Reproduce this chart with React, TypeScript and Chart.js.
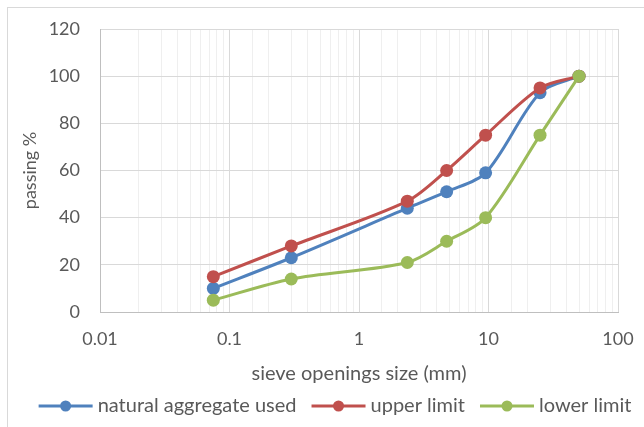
import React, { useEffect, useRef } from 'react';
import { Chart, registerables } from 'chart.js';

Chart.register(...registerables);

// ---- Data ----
const sieveSizes = [0.075, 0.3, 2.36, 4.75, 9.5, 25, 50];
const naturalAggregate = [10, 23, 44, 51, 59, 93, 100];
const upperLimit = [15, 28, 47, 60, 75, 95, 100];
const lowerLimit = [5, 14, 21, 30, 40, 75, 100];
const seriesNames = ['natural aggregate used', 'upper limit', 'lower limit'];
const seriesColors = ['#4F81BD', '#C0504D', '#9BBB59'];
const xTickLabels = ['0.01', '0.1', '1', '10', '100'];
const xTitle = 'sieve openings size (mm)';
const yTitle = 'passing %';

const FONT = 'Lato, "Open Sans", sans-serif';
const TEXT = '#595959';

const toPoints = (ys: number[]) => sieveSizes.map((x, i) => ({ x, y: ys[i] }));

const isDecade = (v: number) => {
  const l = Math.log10(v);
  return Math.abs(l - Math.round(l)) < 1e-6;
};

const framePlugin = {
  id: 'frame',
  beforeDraw(chart: any) {
    const ctx = chart.ctx;
    ctx.save();
    ctx.fillStyle = '#ffffff';
    ctx.fillRect(0, 0, chart.width, chart.height);
    ctx.strokeStyle = '#d9d9d9';
    ctx.lineWidth = 1;
    ctx.strokeRect(7.5, 7.5, chart.width + 20, chart.height + 20);
    ctx.restore();
  },
};

const legendPlugin = {
  id: 'lineLegend',
  afterDraw(chart: any) {
    const ctx = chart.ctx;
    ctx.save();
    ctx.font = `20px ${FONT}`;
    const lineLen = 54;
    const gapText = 5;
    const gapItem = 15;
    const items = chart.data.datasets.map((ds: any) => ({
      label: ds.label,
      color: ds.borderColor,
      w: ctx.measureText(ds.label).width,
    }));
    const total =
      items.reduce((s: number, it: any) => s + lineLen + gapText + it.w, 0) +
      gapItem * (items.length - 1);
    let x = 335 - total / 2;
    const y = 406;
    for (const it of items) {
      ctx.strokeStyle = it.color;
      ctx.lineWidth = 3;
      ctx.beginPath();
      ctx.moveTo(x, y);
      ctx.lineTo(x + lineLen, y);
      ctx.stroke();
      ctx.fillStyle = it.color;
      ctx.beginPath();
      ctx.arc(x + lineLen / 2, y, 5.5, 0, Math.PI * 2);
      ctx.fill();
      ctx.fillStyle = TEXT;
      ctx.textAlign = 'left';
      ctx.textBaseline = 'middle';
      ctx.fillText(it.label, x + lineLen + gapText, y);
      x += lineLen + gapText + it.w + gapItem;
    }
    ctx.restore();
  },
};

export default function App() {
  const canvasRef = useRef<HTMLCanvasElement | null>(null);

  useEffect(() => {
    document.body.style.margin = '0';
    const canvas = canvasRef.current;
    if (!canvas) return;
    const mk = (i: number, ys: number[], order: number) => ({
      label: seriesNames[i],
      data: toPoints(ys),
      borderColor: seriesColors[i],
      backgroundColor: seriesColors[i],
      pointBackgroundColor: seriesColors[i],
      pointBorderColor: seriesColors[i],
      borderWidth: 3,
      pointRadius: 6.5,
      pointBorderWidth: 0,
      tension: 0.3,
      fill: false,
      order,
    });
    const chart = new Chart(canvas, {
      type: 'line',
      data: {
        datasets: [
          mk(0, naturalAggregate, 3),
          mk(1, upperLimit, 2),
          mk(2, lowerLimit, 1),
        ],
      },
      options: {
        animation: false,
        responsive: false,
        maintainAspectRatio: false,
        layout: { padding: { left: 8, top: 29, right: 26, bottom: 0 } },
        plugins: {
          legend: { display: false },
          tooltip: { enabled: false },
        },
        scales: {
          x: {
            type: 'logarithmic',
            min: 0.01,
            max: 100,
            afterFit: (scale: any) => {
              scale.height = 115;
            },
            grid: {
              drawTicks: true,
              tickLength: 16,
              tickColor: 'rgba(0,0,0,0)',
              color: (ctx: any) =>
                ctx.tick && isDecade(ctx.tick.value) ? '#d9d9d9' : '#efefef',
              lineWidth: 1,
            },
            border: { color: '#bfbfbf' },
            ticks: {
              autoSkip: false,
              maxRotation: 0,
              padding: 0,
              color: TEXT,
              font: { family: FONT, size: 18 },
              callback: (v: any) => {
                const n = Number(v);
                if (!isDecade(n)) return '';
                const idx = Math.round(Math.log10(n)) + 2;
                return xTickLabels[idx] ?? '';
              },
            },
            title: {
              display: true,
              text: xTitle,
              color: TEXT,
              font: { family: FONT, size: 20 },
              padding: { top: 0, bottom: 41 },
            },
          },
          y: {
            min: 0,
            max: 120,
            afterFit: (scale: any) => {
              scale.width = 92;
            },
            grid: {
              drawTicks: true,
              tickLength: 20,
              tickColor: 'rgba(0,0,0,0)',
              color: '#d9d9d9',
            },
            border: { color: '#bfbfbf' },
            ticks: {
              stepSize: 20,
              padding: 0,
              color: TEXT,
              font: { family: FONT, size: 18 },
            },
            title: {
              display: true,
              text: yTitle,
              color: TEXT,
              font: { family: FONT, size: 18 },
              padding: { top: 11, bottom: 0 },
            },
          },
        },
      },
      plugins: [framePlugin, legendPlugin],
    } as any);
    return () => chart.destroy();
  }, []);

  return (
    <div style={{ position: 'absolute', left: 0, top: 0, width: 644, height: 427 }}>
      <canvas ref={canvasRef} width={644} height={427} />
    </div>
  );
}
